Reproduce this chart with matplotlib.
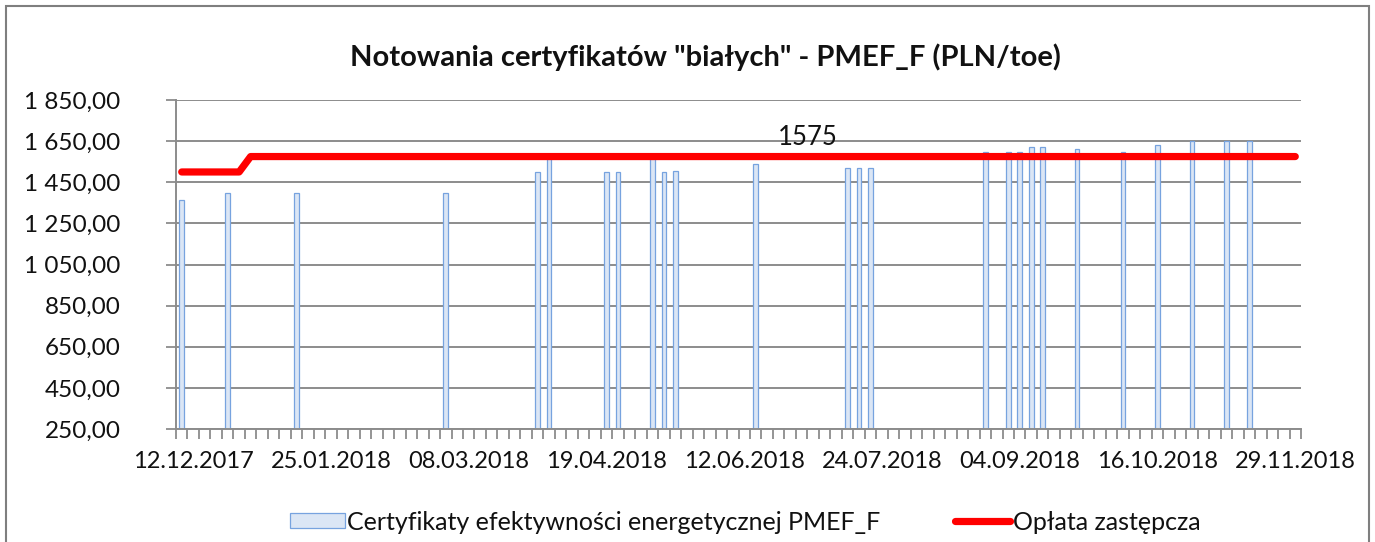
import matplotlib

matplotlib.use('Agg')
import numpy as np
import matplotlib.pyplot as plt
import matplotlib.ticker as ticker
from matplotlib.lines import Line2D
from matplotlib.patches import Patch, Rectangle

plt.rcParams['font.family'] = ['Lato', 'DejaVu Sans']

# Data (x = session index on a 98-session category axis)
n_sessions = 98
bar_idx = [0, 4, 10, 23, 31, 32, 37, 38, 41, 42, 43, 50, 58, 59, 60,
           70, 72, 73, 74, 75, 78, 82, 85, 88, 91, 93]
bar_val = [1365, 1400, 1400, 1400, 1500, 1570, 1500, 1500, 1570, 1500, 1505, 1540,
           1520, 1520, 1520, 1595, 1595, 1595, 1620, 1620, 1610, 1595, 1630,
           1650, 1650, 1650]
oplata = [1500] * 6 + [1575] * 92
label_pos = [1, 13, 25, 37, 49, 61, 73, 85, 97]
date_labels = ['12.12.2017', '25.01.2018', '08.03.2018', '19.04.2018', '12.06.2018',
               '24.07.2018', '04.09.2018', '16.10.2018', '29.11.2018']
annot_idx = 54.5
annot_text = '1575'

grey = '#8c8c8c'
red = '#ff0000'
bar_face = '#dbe6f5'
bar_edge = '#77a3df'
txt = '#111111'

W, H = 1375, 542
fig = plt.figure(figsize=(W / 100, H / 100), dpi=100)

# outer chart border
fig.add_artist(Rectangle((6 / W, -0.05), (1369 - 6) / W, 1.05 - 6 / H,
                         transform=fig.transFigure, fill=False,
                         edgecolor='#7f7f7f', linewidth=1.5))

ax = fig.add_axes([176 / W, 1 - 429 / H, (1301 - 176) / W, (429 - 100) / H])

ax.bar(bar_idx, bar_val, width=0.4, bottom=0, color=bar_face,
       edgecolor=bar_edge, linewidth=0.9, zorder=2)
x_line = np.arange(len(oplata))
ax.plot(x_line, oplata, color=red, linewidth=5.2, solid_capstyle='round',
        solid_joinstyle='round', zorder=3)
ax.text(annot_idx, oplata[int(annot_idx)] + 30, annot_text, ha='center', va='bottom',
        fontsize=18.5, color=txt, zorder=4)

ax.set_xlim(-0.5, n_sessions - 0.5)
ax.set_ylim(250, 1850)
ax.yaxis.set_major_locator(ticker.MultipleLocator(200, offset=50))


def pl_fmt(v, pos):
    s = f'{v:,.2f}'
    return s.replace(',', ' ').replace('.', ',')


ax.yaxis.set_major_formatter(ticker.FuncFormatter(pl_fmt))
ax.set_axisbelow(True)
ax.grid(axis='y', color=grey, linewidth=1.4)

ax.set_xticks(label_pos)
ax.set_xticklabels(date_labels)
ax.set_xticks(np.arange(-0.5, n_sessions, 1), minor=True)
ax.tick_params(axis='x', which='major', length=0, pad=16, labelsize=17, labelcolor=txt)
ax.tick_params(axis='x', which='minor', length=7, width=1.3, color=grey, direction='out')
ax.tick_params(axis='y', which='major', length=7, width=1.3, color=grey, direction='out',
               pad=33, labelsize=17.5, labelcolor=txt)

for side in ['top', 'right']:
    ax.spines[side].set_visible(False)
for side in ['left', 'bottom']:
    ax.spines[side].set_color(grey)
    ax.spines[side].set_linewidth(1.4)

fig.text(705 / W, 1 - 57 / H, 'Notowania certyfikatów "białych" - PMEF_F (PLN/toe)',
         ha='center', va='center', fontsize=21, fontweight='bold', color=txt)

handles = [
    Patch(facecolor=bar_face, edgecolor=bar_edge, linewidth=0.9,
          label='Certyfikaty efektywności energetycznej PMEF_F'),
    Line2D([0], [0], color=red, linewidth=5.2, solid_capstyle='round', label='Opłata zastępcza'),
]
fig.legend(handles=handles, loc='center', bbox_to_anchor=(745 / W, 1 - 522 / H), ncol=2,
           frameon=False, fontsize=18, handlelength=2.2, handleheight=0.55,
           handletextpad=0.1, columnspacing=3.0, labelcolor=txt)

fig.savefig('out.png', dpi=100)
